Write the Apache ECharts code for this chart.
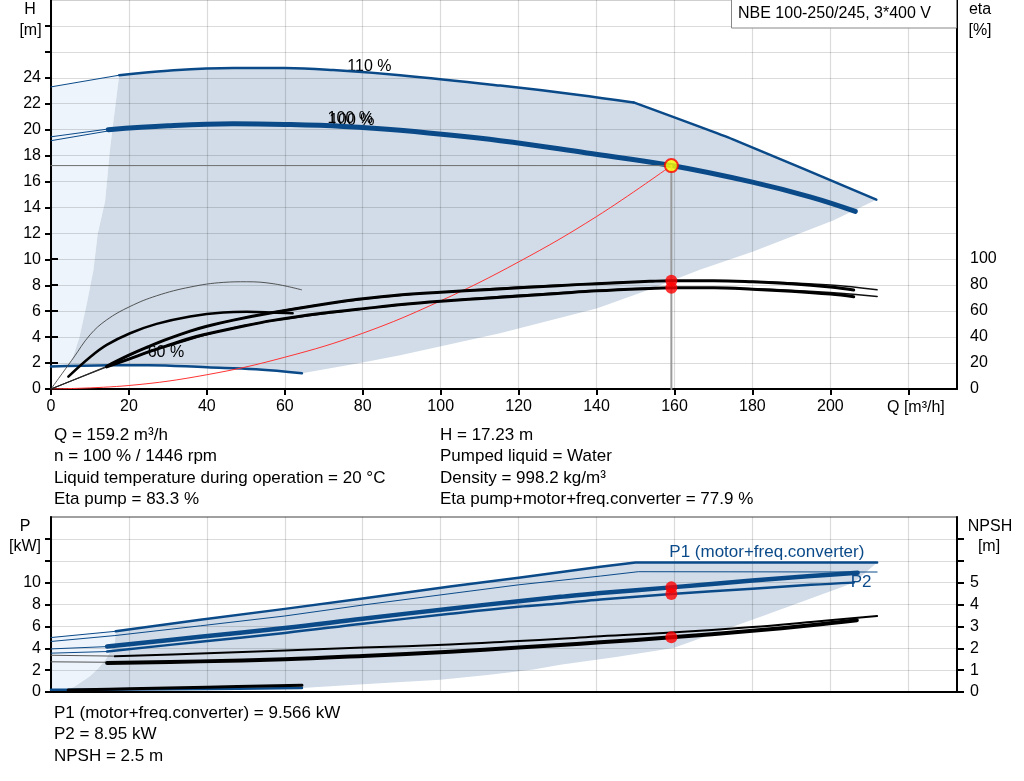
<!DOCTYPE html>
<html><head><meta charset="utf-8">
<script src="https://cdn.jsdelivr.net/npm/echarts@6/dist/echarts.min.js"></script>
<style>html,body{margin:0;padding:0;background:#fff}#c{width:1024px;height:781px}</style>
</head><body><div id="c"></div>
<script>
// ---------- DATA ----------
// Top chart: head H [m] vs Q [m3/h]
const qH110ext = [0, 17.5];          const h110ext = [23.3, 24.2];
const qH110 = [17.5, 30, 46.8, 60, 72.4, 89.6, 115.3, 135, 149.5, 175, 211.8];
const h110  = [24.2, 24.55, 24.75, 24.75, 24.6, 24.2, 23.4, 22.7, 22.1, 19.25, 14.6];
const h110KinkQ = 149.5;
const qH100extA = [0, 14.7];         const h100extA = [19.45, 20.05];
const qH100extB = [0, 14.7];         const h100extB = [19.15, 19.9];
const qH100 = [14.7, 30, 46.8, 60, 75, 89.6, 115.3, 137.5, 159.2, 180, 195, 206.4];
const h100  = [20.0, 20.3, 20.45, 20.4, 20.25, 19.95, 19.15, 18.2, 17.23, 15.95, 14.8, 13.7];
const qH60 = [0, 15, 25, 40, 52.6, 64.4];
const h60  = [1.74, 1.83, 1.84, 1.67, 1.52, 1.21];
const qSys = [0, 20, 40, 60, 80, 100, 120, 140, 159.2];
const hSys = [0, 0.27, 1.1, 2.45, 4.3, 6.8, 9.8, 13.3, 17.23];
// envelope boundaries (Q, H)
const envLeftTop  = [[17.5,24.2],[15.1,18.4],[13.9,14.5],[12,12],[10.9,9.2],[9.2,6.6],[7.3,4.0],[5.7,2.5],[4.45,1.78]];
const envRightTop = [[211.8,14.6],[200.7,13.0],[180.2,10.6],[166.5,9.2],[152,7.5],[140,6.2],[115.2,4.3],[89.6,2.6],[79.3,2.0],[64.4,1.21]];
const lightLeftTop = [[0,23.3]];
const lightBottomTop = [[0,1.74]];

// Efficiency eta [%]
const qEta = [14.3, 20, 25, 30, 35.7, 40, 46.8, 57, 71.6, 78.8, 90, 100, 112.6, 130, 140, 153.7, 159.2, 170, 180, 190, 200, 206];
const etaPump  = [17.5, 26, 32.5, 38.5, 44.5, 48.3, 53, 58.8, 66, 69, 72.5, 74.5, 76.5, 79.5, 81, 82.8, 83.3, 83.3, 82.5, 81, 78.5, 76.2];
const etaTotal = [17, 23, 28.5, 33.5, 39, 42.3, 46.8, 52.8, 59, 61.3, 65, 67.5, 70, 73.5, 75.5, 77.4, 77.9, 77.8, 76.8, 75.2, 73, 71];
const qEta110 = [15.7, 30, 50, 80, 110, 140, 160, 180, 200, 212];
const etaPump110  = [19, 38.5, 55, 69, 76.5, 81.2, 83.2, 82.8, 80, 76.3];
const etaTotal110 = [18.5, 33, 49, 61.5, 70, 75.5, 77.8, 77, 74.2, 71.2];
const qE60p = [0, 5.7, 10, 14.3, 20.3, 27.1, 35.7, 44.2, 50.2, 57, 64.3];
const eE60p = [0, 23.7, 41.6, 53.2, 63.5, 71.7, 78.4, 82, 82.5, 81, 76.3];
const qE60t = [4.45, 10, 14.3, 20.3, 27.1, 35.7, 44.2, 50.2, 57, 62];
const eE60t = [9.5, 24.4, 33.9, 42.9, 50.1, 55.8, 58.9, 59.4, 58.9, 58.3];
const etaExtEnds = [[14.3,17.5],[14.3,17],[15.7,19],[15.7,18.5]];

// Operating point
const opQ = 159.2, opH = 17.23, opEtaPump = 83.3, opEtaTotal = 77.9, opP1 = 9.566, opP2 = 8.95, opNPSH = 2.5;

// Bottom chart: power P [kW], NPSH [m]
const qP1_110ext = [0, 16.6];   const p1_110ext = [4.98, 5.55];
const qP1_110 = [16.6, 38.3, 60, 80, 102.4, 120, 141, 150, 212];
const p1_110  = [5.55, 6.6, 7.6, 8.55, 9.65, 10.45, 11.45, 11.83, 11.83];
const qP2_110 = [0, 16.4, 38.3, 60, 80, 102.4, 120, 141, 150.7, 212];
const p2_110  = [4.62, 5.16, 6.05, 6.95, 7.95, 8.99, 9.8, 10.6, 11.0, 10.97];
const qP1ext = [0, 14.4];       const p1ext = [3.94, 4.15];
const qP1 = [14.4, 38.3, 60, 80, 102.4, 120, 130.7, 141, 159.2, 180, 195, 207];
const p1  = [4.15, 5.05, 5.85, 6.7, 7.62, 8.3, 8.7, 9.05, 9.566, 10.2, 10.6, 10.9];
const qP2ext = [0, 14.4];       const p2ext = [3.55, 3.7];
const qP2 = [14.4, 38.3, 60, 80, 102.4, 120, 130.7, 141, 159.2, 180, 195, 206];
const p2  = [3.7, 4.6, 5.4, 6.25, 7.15, 7.8, 8.1, 8.45, 8.95, 9.45, 9.8, 10.0];
const qNA_ext = [0, 14.4];      const nA_ext = [1.38, 1.36];
const qNA = [14.4, 38.3, 60, 80, 102.4, 120, 130.7, 141, 159.2, 180, 195, 206.8];
const nA  = [1.33, 1.4, 1.5, 1.65, 1.84, 2.03, 2.15, 2.27, 2.5, 2.8, 3.05, 3.28];
const qNB_ext = [0, 16.4];      const nB_ext = [1.68, 1.64];
const qNB = [16.4, 38.3, 60, 80, 102.4, 120, 130.7, 141, 159.2, 180, 195, 212];
const nB  = [1.63, 1.76, 1.9, 2.03, 2.17, 2.33, 2.43, 2.55, 2.72, 2.97, 3.2, 3.47];
const qP60 = [0, 20, 40, 64.4];   const p60 = [0.2, 0.22, 0.28, 0.37];
const qN60 = [4.4, 20, 40, 64.4]; const n60 = [0.09, 0.15, 0.22, 0.31];
const envLeftBot  = [[16.6,5.55],[16.4,4.5],[15.5,3.8],[14,2.96],[12,2.1],[10,1.43],[8,0.95],[6.1,0.51],[4.4,0.2]];
const envRightBot = [[212,11.83],[206,10.0],[183,7.0],[159.7,4.02],[145,3.2],[130.7,2.5],[123.8,2.05],[112,1.55],[99.9,1.13],[80,0.7],[64.4,0.37]];

// Axis ticks / labels
const xTicks = [0,20,40,60,80,100,120,140,160,180,200,220];
const xLabels = [0,20,40,60,80,100,120,140,160,180,200];
const hTicks = [0,2,4,6,8,10,12,14,16,18,20,22,24,26,28];
const hLabels = [0,2,4,6,8,10,12,14,16,18,20,22,24];
const etaTicks = [0,20,40,60,80,100];
const pTicks = [0,2,4,6,8,10,12,14];
const pLabels = [0,2,4,6,8,10];
const nTicks = [0,1,2,3,4,5,6,7];
const nLabels = [0,1,2,3,4,5];

// Texts
const curveLabelsTop = [[81.7,24.83,'110 %'],[76.8,20.85,'100 %'],[77.2,20.7,'100 %'],[29.5,2.78,'60 %']];
const curveLabelsBot = [[183.7,12.76,'P1 (motor+freq.converter)'],[207.9,10.0,'P2']];
const infoLeft = ['Q = 159.2 m³/h','n = 100 % / 1446 rpm','Liquid temperature during operation = 20 °C','Eta pump = 83.3 %'];
const infoRight = ['H = 17.23 m','Pumped liquid = Water','Density = 998.2 kg/m³','Eta pump+motor+freq.converter = 77.9 %'];
const infoBottom = ['P1 (motor+freq.converter) = 9.566 kW','P2 = 8.95 kW','NPSH = 2.5 m'];
const title = 'NBE 100-250/245, 3*400 V';

// ---------- BUILD ----------
const FONT = '"Liberation Sans", Arial, sans-serif';
const BLUE = '#0b4a89';
const SHADE = '#d1dce8';
const LIGHT = '#edf4fb';
const GRID = 'rgba(0,0,0,0.14)';
const pts = (q, v) => q.map((x, i) => [x, v[i]]);

function lineS(xi, yi, data, color, width, z, smooth) {
  return {type:'line', xAxisIndex:xi, yAxisIndex:yi, data, symbol:'none', showSymbol:false,
    smooth: smooth === undefined ? 0.4 : smooth,
    lineStyle:{color, width, cap:'round', join:'round'}, z, silent:true};
}
function polyS(xi, yi, poly, color, z) {
  return {type:'custom', xAxisIndex:xi, yAxisIndex:yi, z, silent:true, data:[[0,0]],
    renderItem:(p, api) => ({type:'polygon', shape:{points: poly.map(pt => api.coord(pt))}, style:{fill:color}})};
}
function textS(xi, yi, items, color, size, z) {
  return {type:'custom', xAxisIndex:xi, yAxisIndex:yi, z, silent:true,
    data: items.map(it => [it[0], it[1]]),
    renderItem:(p, api) => {
      const c = api.coord([api.value(0), api.value(1)]);
      return {type:'text', x:c[0], y:c[1], style:{text: items[p.dataIndex][2], fill:color,
        fontSize:size, fontFamily:FONT, align:'center', verticalAlign:'middle'}};
    }};
}
function dotS(xi, yi, data, z) {
  return {type:'scatter', xAxisIndex:xi, yAxisIndex:yi, data, symbol:'circle', symbolSize:12,
    itemStyle:{color:'#ff0000'}, z, silent:true};
}

// polygons top
const h110pts = pts(qH110, h110);
const h110a = h110pts.filter(p => p[0] <= h110KinkQ);
const h110b = h110pts.filter(p => p[0] >= h110KinkQ);
const h60pts = pts(qH60, h60);
const shadeTop = [].concat(
  h110pts,
  envRightTop.slice(1),
  h60pts.filter(p => p[0] < 64.4 && p[0] > 4.45).reverse(),
  envLeftTop.slice().reverse().slice(0, -1)
);
const lightTop = [].concat(lightLeftTop, envLeftTop, lightBottomTop);
// polygons bottom
const shadeBot = [].concat(
  pts(qP1_110, p1_110),
  envRightBot.slice(1),
  pts(qP60, p60).filter(p => p[0] < 64.4 && p[0] > 4.4).reverse(),
  envLeftBot.slice().reverse().slice(0, -1)
);
const lightBot = [].concat([[0, p1_110ext[0]]], envLeftBot, [[0, p60[0]]]);

const axisLbl = {fontSize:16, color:'#000', fontFamily:FONT};
const blackLine = {lineStyle:{color:'#000', width:2}};

const option = {
  animation:false,
  grid:[
    {left:51, right:67, top:0, height:389, show:true, borderColor:'#a0a0a0', borderWidth:1, backgroundColor:'transparent'},
    {left:51, right:67, top:259, height:130},
    {left:51, right:67, top:517, height:175, show:true, borderColor:'#a0a0a0', borderWidth:2, backgroundColor:'transparent'}
  ],
  xAxis:[
    {gridIndex:0, type:'value', min:0, max:232.5, interval:20, z:3,
      axisLine:blackLine, axisTick:{length:6, lineStyle:{color:'#000', width:2}, customValues:xTicks},
      axisLabel:Object.assign({margin:10, customValues:xLabels, formatter:v => (v <= 200 ? String(v) : '')}, axisLbl),
      splitLine:{show:true, lineStyle:{color:GRID, width:1.2}}},
    {gridIndex:1, type:'value', min:0, max:232.5, show:false},
    {gridIndex:2, type:'value', min:0, max:232.5, interval:20, z:3,
      axisLine:blackLine, axisTick:{show:false, customValues:xTicks}, axisLabel:{show:false, customValues:xTicks},
      splitLine:{show:true, lineStyle:{color:GRID, width:1.2}}}
  ],
  yAxis:[
    {gridIndex:0, type:'value', min:0, max:30, interval:2, z:3,
      axisLine:{show:true, lineStyle:{color:'#000', width:2}}, axisTick:{show:true, length:6, lineStyle:{color:'#000', width:2}, customValues:hTicks},
      axisLabel:Object.assign({margin:10, customValues:hLabels, formatter:v => (v <= 24 ? String(v) : '')}, axisLbl),
      splitLine:{show:true, lineStyle:{color:GRID, width:1.2}}},
    {gridIndex:0, type:'value', position:'right', min:0, max:30, z:3,
      axisLine:{show:true, lineStyle:{color:'#000', width:2}}, axisTick:{show:false}, axisLabel:{show:false}, splitLine:{show:false}},
    {gridIndex:1, type:'value', position:'right', min:0, max:100, interval:20, z:3,
      axisLine:{show:true, lineStyle:{color:'#000', width:2}}, axisTick:{show:true, length:7, lineStyle:{color:'#000', width:2}, customValues:etaTicks},
      axisLabel:Object.assign({margin:13, customValues:etaTicks}, axisLbl), splitLine:{show:false}},
    {gridIndex:2, type:'value', min:0, max:16, interval:2, z:3,
      axisLine:{show:true, lineStyle:{color:'#000', width:2}}, axisTick:{show:true, length:6, lineStyle:{color:'#000', width:2}, customValues:pTicks},
      axisLabel:Object.assign({margin:10, customValues:pLabels, formatter:v => (v <= 10 ? String(v) : '')}, axisLbl),
      splitLine:{show:true, lineStyle:{color:GRID, width:1.2}}},
    {gridIndex:2, type:'value', position:'right', min:0, max:8, interval:1, z:3,
      axisLine:{show:true, lineStyle:{color:'#000', width:2}}, axisTick:{show:true, length:7, lineStyle:{color:'#000', width:2}, customValues:nTicks},
      axisLabel:Object.assign({margin:13, customValues:nLabels, formatter:v => (v <= 5 ? String(v) : '')}, axisLbl),
      splitLine:{show:false}}
  ],
  series:[
    // top areas
    polyS(0,0, lightTop, LIGHT, 1),
    polyS(0,0, shadeTop, SHADE, 1),
    textS(0,0, curveLabelsTop, '#000', 16, 4),
    // H curves
    lineS(0,0, pts(qH110ext, h110ext), BLUE, 1, 5, false),
    lineS(0,0, h110a, BLUE, 2.5, 5),
    lineS(0,0, h110b, BLUE, 2.5, 5, 0.15),
    lineS(0,0, pts(qH100extA, h100extA), BLUE, 1, 5, false),
    lineS(0,0, pts(qH100extB, h100extB), BLUE, 1, 5, false),
    lineS(0,0, pts(qH100, h100), BLUE, 5, 5),
    lineS(0,0, h60pts, BLUE, 2.5, 5),
    lineS(0,0, pts(qSys, hSys), '#ff3333', 1, 6),
    // operating point guide lines
    lineS(0,0, [[0,opH],[opQ,opH]], '#6f6f6f', 1, 6, false),
    lineS(0,0, [[opQ,opH],[opQ,0]], '#9a9a9a', 2, 6, false),
    // eta curves
    lineS(1,2, pts(qE60p, eE60p), '#444', 0.9, 7),
    lineS(1,2, pts(qE60t, eE60t), '#000', 2.5, 7),
  ].concat(
    etaExtEnds.map(e => lineS(1,2, [[0,0], e], '#222', 0.7, 7, false)),
    [
    lineS(1,2, pts(qEta110, etaPump110), '#111', 1.4, 7),
    lineS(1,2, pts(qEta110, etaTotal110), '#111', 1.6, 7),
    lineS(1,2, pts(qEta, etaPump), '#000', 3, 7),
    lineS(1,2, pts(qEta, etaTotal), '#000', 3, 7),
    dotS(1,2, [[opQ, opEtaPump],[opQ, opEtaTotal]], 10),
    {type:'scatter', xAxisIndex:0, yAxisIndex:0, data:[[opQ, opH]], symbol:'circle', symbolSize:13,
      itemStyle:{color:'#ffff00', borderColor:'#ff0000', borderWidth:2}, z:11, silent:true},
    // bottom
    polyS(2,3, lightBot, LIGHT, 1),
    polyS(2,3, shadeBot, SHADE, 1),
    lineS(2,3, pts(qP1_110ext, p1_110ext), BLUE, 1, 5, false),
    lineS(2,3, pts(qP1_110, p1_110), BLUE, 2.5, 5, false),
    lineS(2,3, pts(qP2_110, p2_110), BLUE, 1, 5, false),
    lineS(2,3, pts(qP1ext, p1ext), BLUE, 1, 5, false),
    lineS(2,3, pts(qP1, p1), BLUE, 4.5, 5),
    lineS(2,3, pts(qP2ext, p2ext), BLUE, 1, 5, false),
    lineS(2,3, pts(qP2, p2), BLUE, 2.5, 5),
    lineS(2,3, pts(qP60, p60), BLUE, 2.5, 5),
    lineS(2,4, pts(qNA_ext, nA_ext), '#555', 1, 5, false),
    lineS(2,4, pts(qNA, nA), '#000', 4, 6),
    lineS(2,4, pts(qNB_ext, nB_ext), '#555', 1, 5, false),
    lineS(2,4, pts(qNB, nB), '#000', 2, 6),
    lineS(2,4, pts(qN60, n60), '#000', 3, 6),
    textS(2,3, curveLabelsBot, BLUE, 17, 8),
    dotS(2,3, [[opQ, opP1],[opQ, opP2]], 10),
    dotS(2,4, [[opQ, opNPSH]], 10)
    ]
  ),
  graphic:[]
};

const T = (x, y, text, align, size, fill) => ({type:'text', x, y, z:100, silent:true,
  style:{text, fill: fill || '#000', fontSize: size || 17, fontFamily:FONT, align: align || 'left', verticalAlign:'middle'}});
const g = option.graphic;
g.push(T(30, 10, 'H', 'center', 16), T(30.5, 31, '[m]', 'center', 16));
g.push(T(980, 10, 'eta', 'center', 16), T(980, 31, '[%]', 'center', 16));
g.push(T(25, 527, 'P', 'center', 16), T(25, 547, '[kW]', 'center', 16));
g.push(T(990, 527, 'NPSH', 'center', 16), T(989, 547, '[m]', 'center', 16));
g.push(T(887, 408, 'Q [m³/h]', 'left', 16));
g.push({type:'rect', z:99, silent:true, shape:{x:731.5, y:-0.5, width:225, height:28.5}, style:{fill:'#fff', stroke:'#888', lineWidth:1}});
g.push(T(738, 14, title, 'left', 16));
const rows = [435, 456.5, 478, 499.5];
infoLeft.forEach((t, i) => g.push(T(54, rows[i], t)));
infoRight.forEach((t, i) => g.push(T(440, rows[i], t)));
const rowsB = [713.5, 734.5, 756];
infoBottom.forEach((t, i) => g.push(T(54, rowsB[i], t)));

const chart = echarts.init(document.getElementById('c'), null, {renderer:'canvas'});
chart.setOption(option);
</script></body></html>
